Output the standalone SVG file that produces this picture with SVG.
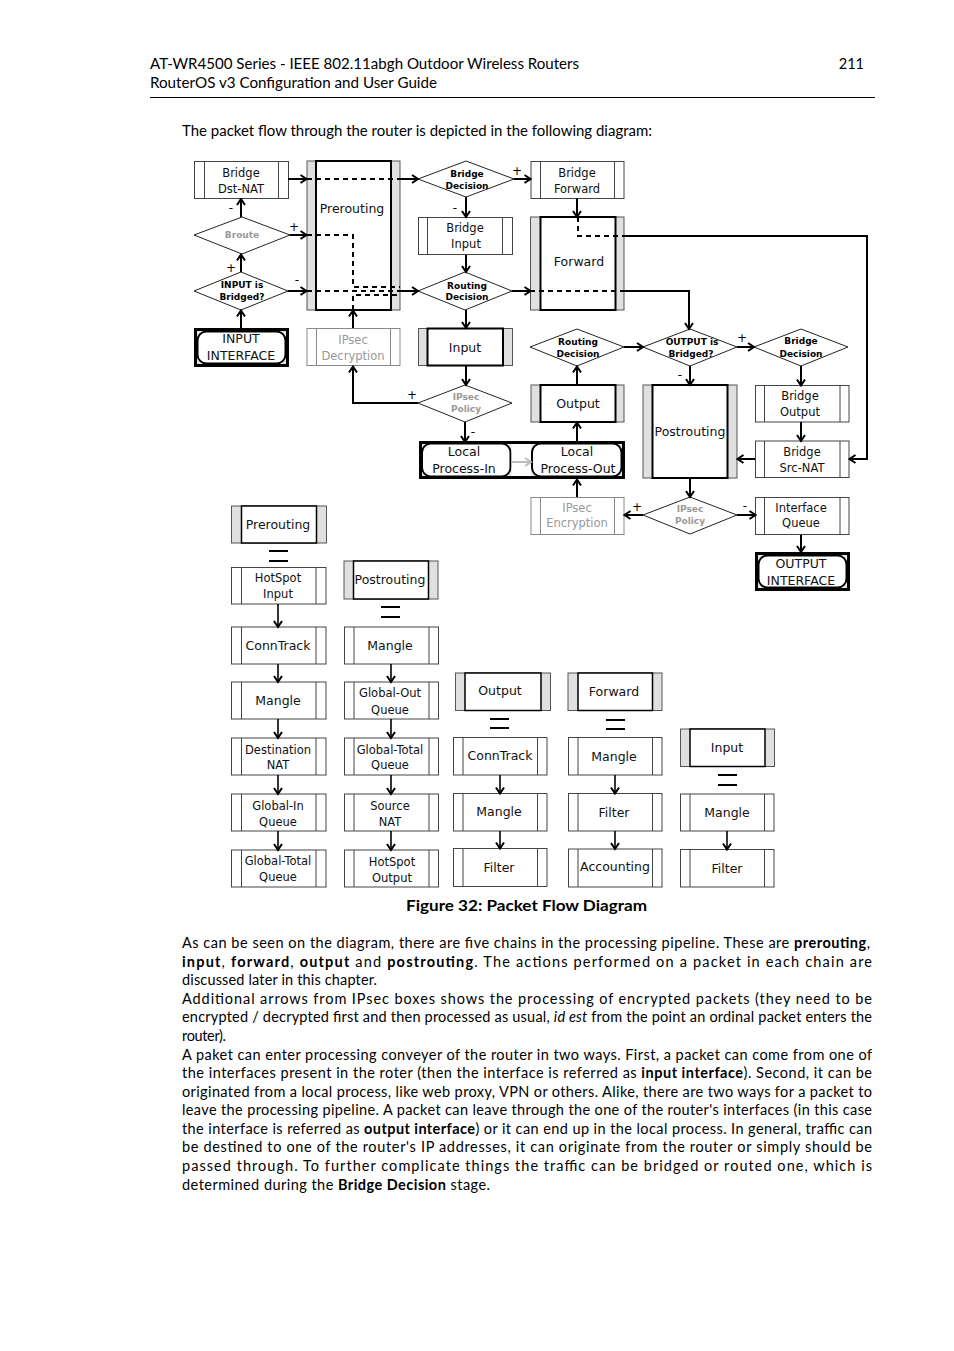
<svg xmlns="http://www.w3.org/2000/svg" width="954" height="1351" viewBox="0 0 954 1351">
<style>
.bg{fill:#fff}
.pb{fill:#fff;stroke:#444;stroke-width:1}
.pl{stroke:#444;stroke-width:1}
.gpb{fill:#fff;stroke:#888;stroke-width:1}
.gpl{stroke:#888;stroke-width:1}
.co{fill:#e0e0e0;stroke:#555;stroke-width:1}
.ci{fill:#fff;stroke:#000;stroke-width:2}
.ci2{fill:#fff;stroke:#000;stroke-width:1.5}
.dm{fill:#fff;stroke:#222;stroke-width:1}
.t{font-family:"DejaVu Sans",sans-serif;font-size:11.5px;fill:#111;text-anchor:middle}
.tc{font-family:"DejaVu Sans",sans-serif;font-size:12.5px;fill:#111;text-anchor:middle}
.td{font-family:"DejaVu Sans",sans-serif;font-size:9px;font-weight:bold;fill:#000;text-anchor:middle}
.tg{fill:#999}
.pm{font-family:"DejaVu Sans",sans-serif;font-size:12px;fill:#000;text-anchor:middle}
.cn{fill:none;stroke:#000;stroke-width:2}
.cs{fill:none;stroke:#000;stroke-width:1.6}
.ds{fill:none;stroke:#000;stroke-width:2;stroke-dasharray:5 4}
.eq{stroke:#000;stroke-width:2}
.body{font-family:Lato,"Open Sans",sans-serif;font-size:14.5px;fill:#000}
.b{font-weight:bold}
</style>
<defs>
<marker id="ah" markerUnits="userSpaceOnUse" markerWidth="10" markerHeight="10" viewBox="0 0 10 10" refX="8.5" refY="5" orient="auto">
<path d="M2.5,1 L8.5,5 L2.5,9" fill="none" stroke="#000" stroke-width="2"/>
</marker>
<marker id="ahg" markerUnits="userSpaceOnUse" markerWidth="10" markerHeight="10" viewBox="0 0 10 10" refX="8.5" refY="5" orient="auto">
<path d="M2.5,1 L8.5,5 L2.5,9" fill="none" stroke="#bbb" stroke-width="2"/>
</marker>
</defs>
<rect class="bg" x="0" y="0" width="954" height="1351"/>

<g id="page-text">
<text class="body" x="150" y="69" textLength="429" lengthAdjust="spacingAndGlyphs">AT-WR4500 Series - IEEE 802.11abgh Outdoor Wireless Routers</text>
<text class="body" x="864" y="69" text-anchor="end">211</text>
<text class="body" x="150" y="88" textLength="287" lengthAdjust="spacingAndGlyphs">RouterOS v3 Configuration and User Guide</text>
<line x1="150" y1="97.5" x2="875" y2="97.5" stroke="#000" stroke-width="1"/>
<text class="body" x="182" y="136" textLength="470" lengthAdjust="spacingAndGlyphs">The packet flow through the router is depicted in the following diagram:</text>
<text class="body b" x="406" y="911" textLength="241" lengthAdjust="spacingAndGlyphs">Figure 32: Packet Flow Diagram</text>
<text class="body" x="182" y="948" textLength="688" lengthAdjust="spacing">As can be seen on the diagram, there are five chains in the processing pipeline. These are <tspan class="b">prerouting</tspan>,</text>
<text class="body" x="182" y="967" textLength="690" lengthAdjust="spacing"><tspan class="b">input</tspan>, <tspan class="b">forward</tspan>, <tspan class="b">output</tspan> and <tspan class="b">postrouting</tspan>. The actions performed on a packet in each chain are</text>
<text class="body" x="182" y="985" textLength="195" lengthAdjust="spacing">discussed later in this chapter.</text>
<text class="body" x="182" y="1004" textLength="690" lengthAdjust="spacing">Additional arrows from IPsec boxes shows the processing of encrypted packets (they need to be</text>
<text class="body" x="182" y="1022" textLength="690" lengthAdjust="spacing">encrypted / decrypted first and then processed as usual, <tspan font-style="italic">id est</tspan> from the point an ordinal packet enters the</text>
<text class="body" x="182" y="1041" textLength="44" lengthAdjust="spacing">router).</text>
<text class="body" x="182" y="1060" textLength="690" lengthAdjust="spacing">A paket can enter processing conveyer of the router in two ways. First, a packet can come from one of</text>
<text class="body" x="182" y="1078" textLength="690" lengthAdjust="spacing">the interfaces present in the roter (then the interface is referred as <tspan class="b">input interface</tspan>). Second, it can be</text>
<text class="body" x="182" y="1097" textLength="690" lengthAdjust="spacing">originated from a local process, like web proxy, VPN or others. Alike, there are two ways for a packet to</text>
<text class="body" x="182" y="1115" textLength="690" lengthAdjust="spacing">leave the processing pipeline. A packet can leave through the one of the router's interfaces (in this case</text>
<text class="body" x="182" y="1134" textLength="690" lengthAdjust="spacing">the interface is referred as <tspan class="b">output interface</tspan>) or it can end up in the local process. In general, traffic can</text>
<text class="body" x="182" y="1152" textLength="690" lengthAdjust="spacing">be destined to one of the router's IP addresses, it can originate from the router or simply should be</text>
<text class="body" x="182" y="1171" textLength="690" lengthAdjust="spacing">passed through. To further complicate things the traffic can be bridged or routed one, which is</text>
<text class="body" x="182" y="1190" textLength="308" lengthAdjust="spacing">determined during the <tspan class="b">Bridge Decision</tspan> stage.</text>
</g>

<!-- ===== Top diagram nodes ===== -->
<g id="bridge-dst-nat">
<rect class="pb" x="194.5" y="161.5" width="94" height="37"/>
<line class="pl" x1="204.5" y1="161.5" x2="204.5" y2="198.5"/><line class="pl" x1="278.5" y1="161.5" x2="278.5" y2="198.5"/>
<text class="t" x="241" y="177">Bridge</text><text class="t" x="241" y="193">Dst-NAT</text>
</g>
<g id="prerouting">
<rect class="co" x="307" y="161" width="93" height="149"/>
<rect class="ci" x="316" y="161" width="75" height="149"/>
<text class="tc" x="352" y="213">Prerouting</text>
</g>
<g id="bridge-decision-1">
<polygon class="dm" points="418,179 466,161 514,179 466,197"/>
<text class="td" x="467" y="177">Bridge</text><text class="td" x="467" y="189">Decision</text>
</g>
<g id="bridge-forward">
<rect class="pb" x="531" y="161.5" width="93" height="37"/>
<line class="pl" x1="540.5" y1="161.5" x2="540.5" y2="198.5"/><line class="pl" x1="614.5" y1="161.5" x2="614.5" y2="198.5"/>
<text class="t" x="577" y="177">Bridge</text><text class="t" x="577" y="193">Forward</text>
</g>
<g id="broute">
<polygon class="dm" points="194,235 242,217 290,235 242,254"/>
<text class="td tg" x="242" y="238">Broute</text>
</g>
<g id="bridge-input">
<rect class="pb" x="418.5" y="217.5" width="94" height="37"/>
<line class="pl" x1="427.5" y1="217.5" x2="427.5" y2="254.5"/><line class="pl" x1="502.5" y1="217.5" x2="502.5" y2="254.5"/>
<text class="t" x="465" y="232">Bridge</text><text class="t" x="466" y="248">Input</text>
</g>
<g id="forward">
<rect class="co" x="530.5" y="217" width="93.5" height="93"/>
<rect class="ci" x="540.5" y="217" width="75" height="93"/>
<text class="tc" x="579" y="266">Forward</text>
</g>
<g id="input-is-bridged">
<polygon class="dm" points="194,291 241,272 288,291 241,310"/>
<text class="td" x="242" y="288">INPUT is</text><text class="td" x="242" y="300">Bridged?</text>
</g>
<g id="routing-decision-1">
<polygon class="dm" points="418,291 465,272 512,291 465,310"/>
<text class="td" x="467" y="289">Routing</text><text class="td" x="467" y="300">Decision</text>
</g>
<g id="input-interface">
<rect x="194" y="328" width="95" height="39" fill="#000"/>
<rect x="197" y="331" width="89" height="33" fill="#e4e4e4"/>
<rect x="197.5" y="331.5" width="88" height="32" rx="9" fill="#fff" stroke="#000" stroke-width="2"/>
<text class="tc" x="241" y="343">INPUT</text><text class="tc" x="241" y="360">INTERFACE</text>
</g>
<g id="ipsec-decryption">
<rect class="gpb" x="307" y="328.5" width="93" height="37"/>
<line class="gpl" x1="316.5" y1="328.5" x2="316.5" y2="365.5"/><line class="gpl" x1="390.5" y1="328.5" x2="390.5" y2="365.5"/>
<text class="t tg" x="353" y="344">IPsec</text><text class="t tg" x="353" y="360">Decryption</text>
</g>
<g id="input">
<rect class="co" x="418.5" y="328.5" width="94" height="37"/>
<rect class="ci" x="427.5" y="328.5" width="75.5" height="37"/>
<text class="tc" x="465" y="352">Input</text>
</g>
<g id="routing-decision-2">
<polygon class="dm" points="530,347 577,329 624,347 577,366"/>
<text class="td" x="578" y="345">Routing</text><text class="td" x="578" y="357">Decision</text>
</g>
<g id="output-is-bridged">
<polygon class="dm" points="643,347 690,329 737,347 690,366"/>
<text class="td" x="692" y="345">OUTPUT is</text><text class="td" x="691" y="357">Bridged?</text>
</g>
<g id="bridge-decision-2">
<polygon class="dm" points="754,347 801,329 848,347 801,366"/>
<text class="td" x="801" y="344">Bridge</text><text class="td" x="801" y="357">Decision</text>
</g>
<g id="ipsec-policy-1">
<polygon class="dm" points="418,403 465,385 512,403 465,422"/>
<text class="td tg" x="466" y="400">IPsec</text><text class="td tg" x="466" y="412">Policy</text>
</g>
<g id="output">
<rect class="co" x="531" y="385" width="93" height="37"/>
<rect class="ci" x="540.5" y="385" width="75" height="37"/>
<text class="tc" x="578" y="408">Output</text>
</g>
<g id="postrouting">
<rect class="co" x="643" y="385" width="94" height="93"/>
<rect class="ci" x="652.5" y="385" width="75" height="93"/>
<text class="tc" x="690" y="436">Postrouting</text>
</g>
<g id="bridge-output">
<rect class="pb" x="755.5" y="385.5" width="93.5" height="36.5"/>
<line class="pl" x1="764.5" y1="385.5" x2="764.5" y2="422"/><line class="pl" x1="840" y1="385.5" x2="840" y2="422"/>
<text class="t" x="800" y="400">Bridge</text><text class="t" x="800" y="416">Output</text>
</g>
<g id="local-process">
<rect x="419" y="441" width="206" height="38" fill="#000"/>
<rect x="422" y="444" width="200" height="32" fill="#e4e4e4"/>
<rect x="422" y="443.5" width="88.5" height="33" rx="9" fill="#fff" stroke="#000" stroke-width="2"/>
<rect x="532" y="443.5" width="89.5" height="33" rx="9" fill="#fff" stroke="#000" stroke-width="2"/>
<rect x="511.5" y="444" width="19.5" height="32" fill="#fff"/>
<text class="tc" x="464" y="456">Local</text><text class="tc" x="464" y="473">Process-In</text>
<text class="tc" x="577" y="456">Local</text><text class="tc" x="578" y="473">Process-Out</text>
</g>
<g id="bridge-src-nat">
<rect class="pb" x="755.5" y="441" width="93.5" height="36.5"/>
<line class="pl" x1="764.5" y1="441" x2="764.5" y2="477.5"/><line class="pl" x1="840" y1="441" x2="840" y2="477.5"/>
<text class="t" x="802" y="456">Bridge</text><text class="t" x="802" y="472">Src-NAT</text>
</g>
<g id="ipsec-encryption">
<rect class="gpb" x="531" y="497.5" width="93" height="37"/>
<line class="gpl" x1="540.5" y1="497.5" x2="540.5" y2="534.5"/><line class="gpl" x1="614.5" y1="497.5" x2="614.5" y2="534.5"/>
<text class="t tg" x="577" y="512">IPsec</text><text class="t tg" x="577" y="527">Encryption</text>
</g>
<g id="ipsec-policy-2">
<polygon class="dm" points="643,515 690,497 737,515 690,534"/>
<text class="td tg" x="690" y="512">IPsec</text><text class="td tg" x="690" y="524">Policy</text>
</g>
<g id="interface-queue">
<rect class="pb" x="755.5" y="497.5" width="93.5" height="37"/>
<line class="pl" x1="764.5" y1="497.5" x2="764.5" y2="534.5"/><line class="pl" x1="840" y1="497.5" x2="840" y2="534.5"/>
<text class="t" x="801" y="512">Interface</text><text class="t" x="801" y="527">Queue</text>
</g>
<g id="output-interface">
<rect x="755" y="552" width="95" height="39" fill="#000"/>
<rect x="758" y="555" width="89" height="33" fill="#e4e4e4"/>
<rect x="758.5" y="555.5" width="88" height="32" rx="9" fill="#fff" stroke="#000" stroke-width="2"/>
<text class="tc" x="801" y="568">OUTPUT</text><text class="tc" x="801" y="585">INTERFACE</text>
</g>

<!-- ===== Lower chain tables ===== -->
<g id="c1-prerouting">
<rect class="co" x="231.5" y="506" width="95" height="37"/>
<rect class="ci2" x="241.5" y="506" width="75" height="37"/>
<text class="tc" x="278" y="529">Prerouting</text>
</g>
<g id="c1-hotspot-input">
<rect class="pb" x="231.5" y="567.5" width="94.5" height="36.5"/>
<line class="pl" x1="241.5" y1="567.5" x2="241.5" y2="604"/><line class="pl" x1="316" y1="567.5" x2="316" y2="604"/>
<text class="t" x="278" y="582">HotSpot</text><text class="t" x="278" y="598">Input</text>
</g>
<g id="c1-conntrack">
<rect class="pb" x="231.5" y="627" width="94.5" height="37"/>
<line class="pl" x1="241.5" y1="627" x2="241.5" y2="664"/><line class="pl" x1="316" y1="627" x2="316" y2="664"/>
<text class="tc" x="278" y="650">ConnTrack</text>
</g>
<g id="c1-mangle">
<rect class="pb" x="231.5" y="682" width="94.5" height="37"/>
<line class="pl" x1="241.5" y1="682" x2="241.5" y2="719"/><line class="pl" x1="316" y1="682" x2="316" y2="719"/>
<text class="tc" x="278" y="705">Mangle</text>
</g>
<g id="c1-destination-nat">
<rect class="pb" x="231.5" y="738" width="94.5" height="37"/>
<line class="pl" x1="241.5" y1="738" x2="241.5" y2="775"/><line class="pl" x1="316" y1="738" x2="316" y2="775"/>
<text class="t" x="278" y="754">Destination</text><text class="t" x="278" y="769">NAT</text>
</g>
<g id="c1-global-in-queue">
<rect class="pb" x="231.5" y="794" width="94.5" height="37"/>
<line class="pl" x1="241.5" y1="794" x2="241.5" y2="831"/><line class="pl" x1="316" y1="794" x2="316" y2="831"/>
<text class="t" x="278" y="810">Global-In</text><text class="t" x="278" y="826">Queue</text>
</g>
<g id="c1-global-total-queue">
<rect class="pb" x="231.5" y="850" width="94.5" height="37"/>
<line class="pl" x1="241.5" y1="850" x2="241.5" y2="887"/><line class="pl" x1="316" y1="850" x2="316" y2="887"/>
<text class="t" x="278" y="865">Global-Total</text><text class="t" x="278" y="881">Queue</text>
</g>

<g id="c2-postrouting">
<rect class="co" x="344" y="561" width="94" height="38"/>
<rect class="ci2" x="353.5" y="561" width="75" height="38"/>
<text class="tc" x="390" y="584">Postrouting</text>
</g>
<g id="c2-mangle">
<rect class="pb" x="344.5" y="627" width="94" height="37"/>
<line class="pl" x1="354" y1="627" x2="354" y2="664"/><line class="pl" x1="429" y1="627" x2="429" y2="664"/>
<text class="tc" x="390" y="650">Mangle</text>
</g>
<g id="c2-global-out-queue">
<rect class="pb" x="344.5" y="682" width="94" height="37"/>
<line class="pl" x1="354" y1="682" x2="354" y2="719"/><line class="pl" x1="429" y1="682" x2="429" y2="719"/>
<text class="t" x="390" y="697">Global-Out</text><text class="t" x="390" y="714">Queue</text>
</g>
<g id="c2-global-total-queue">
<rect class="pb" x="344.5" y="738" width="94" height="37"/>
<line class="pl" x1="354" y1="738" x2="354" y2="775"/><line class="pl" x1="429" y1="738" x2="429" y2="775"/>
<text class="t" x="390" y="754">Global-Total</text><text class="t" x="390" y="769">Queue</text>
</g>
<g id="c2-source-nat">
<rect class="pb" x="344.5" y="794" width="94" height="37"/>
<line class="pl" x1="354" y1="794" x2="354" y2="831"/><line class="pl" x1="429" y1="794" x2="429" y2="831"/>
<text class="t" x="390" y="810">Source</text><text class="t" x="390" y="826">NAT</text>
</g>
<g id="c2-hotspot-output">
<rect class="pb" x="344.5" y="850" width="94" height="37"/>
<line class="pl" x1="354" y1="850" x2="354" y2="887"/><line class="pl" x1="429" y1="850" x2="429" y2="887"/>
<text class="t" x="392" y="866">HotSpot</text><text class="t" x="392" y="882">Output</text>
</g>

<g id="c3-output">
<rect class="co" x="455.5" y="673" width="95" height="37.5"/>
<rect class="ci2" x="465" y="673" width="76" height="37.5"/>
<text class="tc" x="500" y="695">Output</text>
</g>
<g id="c3-conntrack">
<rect class="pb" x="453.5" y="737.5" width="93.5" height="37.5"/>
<line class="pl" x1="463" y1="737.5" x2="463" y2="775"/><line class="pl" x1="537.5" y1="737.5" x2="537.5" y2="775"/>
<text class="tc" x="500" y="760">ConnTrack</text>
</g>
<g id="c3-mangle">
<rect class="pb" x="453.5" y="793.5" width="93.5" height="37.5"/>
<line class="pl" x1="463" y1="793.5" x2="463" y2="831"/><line class="pl" x1="537.5" y1="793.5" x2="537.5" y2="831"/>
<text class="tc" x="499" y="816">Mangle</text>
</g>
<g id="c3-filter">
<rect class="pb" x="453.5" y="848.5" width="93.5" height="38"/>
<line class="pl" x1="463" y1="848.5" x2="463" y2="886.5"/><line class="pl" x1="537.5" y1="848.5" x2="537.5" y2="886.5"/>
<text class="tc" x="499" y="872">Filter</text>
</g>

<g id="c4-forward">
<rect class="co" x="568" y="673" width="94" height="37.5"/>
<rect class="ci2" x="578" y="673" width="74.5" height="37.5"/>
<text class="tc" x="614" y="696">Forward</text>
</g>
<g id="c4-mangle">
<rect class="pb" x="568.5" y="737.5" width="93.5" height="37.5"/>
<line class="pl" x1="578" y1="737.5" x2="578" y2="775"/><line class="pl" x1="652.5" y1="737.5" x2="652.5" y2="775"/>
<text class="tc" x="614" y="761">Mangle</text>
</g>
<g id="c4-filter">
<rect class="pb" x="568.5" y="793.5" width="93.5" height="37.5"/>
<line class="pl" x1="578" y1="793.5" x2="578" y2="831"/><line class="pl" x1="652.5" y1="793.5" x2="652.5" y2="831"/>
<text class="tc" x="614" y="817">Filter</text>
</g>
<g id="c4-accounting">
<rect class="pb" x="568.5" y="849" width="93.5" height="38"/>
<line class="pl" x1="578" y1="849" x2="578" y2="887"/><line class="pl" x1="652.5" y1="849" x2="652.5" y2="887"/>
<text class="tc" x="615" y="871">Accounting</text>
</g>

<g id="c5-input">
<rect class="co" x="680.5" y="729" width="94" height="37.5"/>
<rect class="ci2" x="690" y="729" width="75" height="37.5"/>
<text class="tc" x="727" y="752">Input</text>
</g>
<g id="c5-mangle">
<rect class="pb" x="680.5" y="794" width="93.5" height="37"/>
<line class="pl" x1="690" y1="794" x2="690" y2="831"/><line class="pl" x1="764.5" y1="794" x2="764.5" y2="831"/>
<text class="tc" x="727" y="817">Mangle</text>
</g>
<g id="c5-filter">
<rect class="pb" x="680.5" y="849.5" width="93.5" height="37.5"/>
<line class="pl" x1="690" y1="849.5" x2="690" y2="887"/><line class="pl" x1="764.5" y1="849.5" x2="764.5" y2="887"/>
<text class="tc" x="727" y="873">Filter</text>
</g>

<!-- ===== Connectors ===== -->
<g id="connectors">
<path class="cn" d="M288,179 H306.5" marker-end="url(#ah)"/>
<path class="ds" d="M307,179 H400"/>
<path class="cn" d="M400,179 H418" marker-end="url(#ah)"/>
<path class="cn" d="M514,179 H530.5" marker-end="url(#ah)"/>
<path class="cn" d="M466,197 V217" marker-end="url(#ah)"/>
<path class="cn" d="M466,255 V272" marker-end="url(#ah)"/>
<path class="cn" d="M466,310 V328" marker-end="url(#ah)"/>
<path class="cn" d="M466,366 V385" marker-end="url(#ah)"/>
<path class="cn" d="M465,422 V442" marker-end="url(#ah)"/>
<path class="cn" d="M418,403 H353 V366.5" marker-end="url(#ah)"/>
<path class="cn" d="M353,328 V310.5" marker-end="url(#ah)"/>
<path class="ds" d="M353,310 V295 H400"/>
<path class="cn" d="M241,328 V310.5" marker-end="url(#ah)"/>
<path class="cn" d="M241,272 V254.5" marker-end="url(#ah)"/>
<path class="cn" d="M241,217 V199" marker-end="url(#ah)"/>
<path class="cn" d="M290,235 H306.5" marker-end="url(#ah)"/>
<path class="ds" d="M307,235 H353 V287 H400"/>
<path class="cn" d="M288,291 H306.5" marker-end="url(#ah)"/>
<path class="ds" d="M307,291 H400"/>
<path class="cn" d="M400,291 H418" marker-end="url(#ah)"/>
<path class="cn" d="M512,291 H530.5" marker-end="url(#ah)"/>
<path class="ds" d="M530,291 H624"/>
<path class="cn" d="M624,291 H689 V329" marker-end="url(#ah)"/>
<path class="cn" d="M577,198.5 V217" marker-end="url(#ah)"/>
<path class="ds" d="M578,217 V236 H624"/>
<path class="cn" d="M624,236 H867 V459 H849.5" marker-end="url(#ah)"/>
<path class="cn" d="M577,441 V422.5" marker-end="url(#ah)"/>
<path class="cn" d="M577,385 V366.5" marker-end="url(#ah)"/>
<path class="cn" d="M624,347 H643" marker-end="url(#ah)"/>
<path class="cn" d="M737,347 H754" marker-end="url(#ah)"/>
<path class="cn" d="M690,366 V385" marker-end="url(#ah)"/>
<path class="cn" d="M801,366 V385.5" marker-end="url(#ah)"/>
<path class="cn" d="M801,422 V441" marker-end="url(#ah)"/>
<path class="cn" d="M755,459 H737.5" marker-end="url(#ah)"/>
<path class="cn" d="M690,478 V497" marker-end="url(#ah)"/>
<path class="cn" d="M643,515 H624.5" marker-end="url(#ah)"/>
<path class="cn" d="M737,515 H755.5" marker-end="url(#ah)"/>
<path class="cn" d="M801,535 V552" marker-end="url(#ah)"/>
<path class="cn" d="M577,497 V479.5" marker-end="url(#ah)"/>
<path fill="none" stroke="#bbb" stroke-width="2" d="M511,462 H531" marker-end="url(#ahg)"/>

<path class="cs" d="M278,604 V627" marker-end="url(#ah)"/>
<path class="cs" d="M278,664 V682" marker-end="url(#ah)"/>
<path class="cs" d="M278,719 V738" marker-end="url(#ah)"/>
<path class="cs" d="M278,775 V794" marker-end="url(#ah)"/>
<path class="cs" d="M278,831 V850" marker-end="url(#ah)"/>
<path class="cs" d="M391,664 V682" marker-end="url(#ah)"/>
<path class="cs" d="M391,719 V738" marker-end="url(#ah)"/>
<path class="cs" d="M391,775 V794" marker-end="url(#ah)"/>
<path class="cs" d="M391,831 V850" marker-end="url(#ah)"/>
<path class="cs" d="M500,775 V793.5" marker-end="url(#ah)"/>
<path class="cs" d="M500,831 V848.5" marker-end="url(#ah)"/>
<path class="cs" d="M615,775 V793.5" marker-end="url(#ah)"/>
<path class="cs" d="M615,831 V849" marker-end="url(#ah)"/>
<path class="cs" d="M727,831 V849.5" marker-end="url(#ah)"/>

<line class="eq" x1="269" y1="551" x2="288" y2="551"/><line class="eq" x1="269" y1="561" x2="288" y2="561"/>
<line class="eq" x1="381" y1="607" x2="400" y2="607"/><line class="eq" x1="381" y1="617" x2="400" y2="617"/>
<line class="eq" x1="490" y1="719" x2="509" y2="719"/><line class="eq" x1="490" y1="728" x2="509" y2="728"/>
<line class="eq" x1="606" y1="720" x2="625" y2="720"/><line class="eq" x1="606" y1="729" x2="625" y2="729"/>
<line class="eq" x1="718" y1="775" x2="737" y2="775" stroke-width="1.5"/><line class="eq" x1="718" y1="785" x2="737" y2="785" stroke-width="1.5"/>

<text class="pm" x="231" y="212">-</text>
<text class="pm" x="294" y="231">+</text>
<text class="pm" x="231" y="272">+</text>
<text class="pm" x="297" y="284" fill="#888" font-size="9">-</text>
<text class="pm" x="517" y="175">+</text>
<text class="pm" x="455" y="212">-</text>
<text class="pm" x="412" y="399">+</text>
<text class="pm" x="473" y="436">-</text>
<text class="pm" x="742" y="342">+</text>
<text class="pm" x="680" y="379">-</text>
<text class="pm" x="637" y="511">+</text>
<text class="pm" x="745" y="510">-</text>
</g>
</svg>
